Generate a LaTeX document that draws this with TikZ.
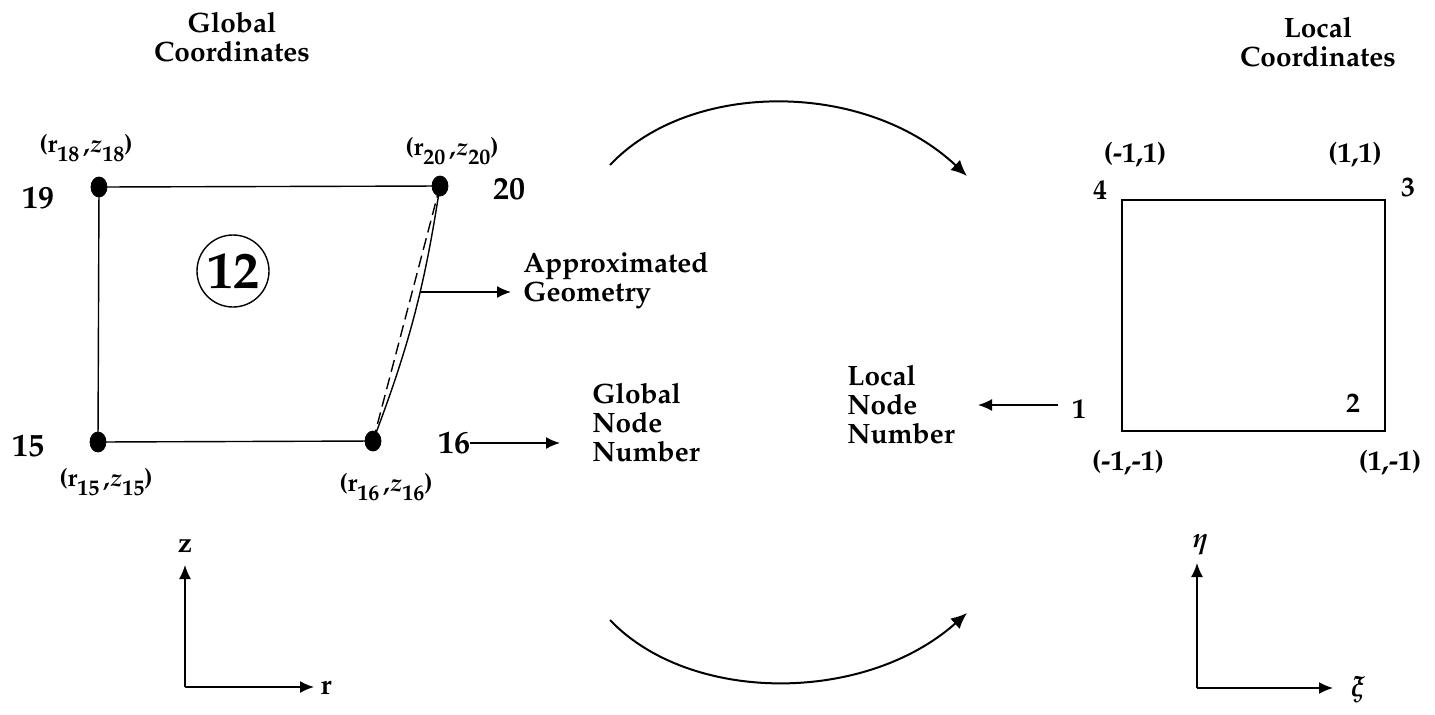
\documentclass[tikz,border=0pt]{standalone}
\usepackage[T1]{fontenc}
\usepackage{mathpazo}
\usetikzlibrary{arrows.meta,shapes.geometric}
\newcommand{\lsb}[1]{\raisebox{-4.5pt}{\fontsize{11}{11}\selectfont #1}}
\begin{document}
\begin{tikzpicture}[x=0.5pt,y=-0.5pt,
  txt/.style={font=\fontsize{14}{14.5}\selectfont\bfseries\boldmath, inner sep=0pt},
  blk/.style={txt, align=left},
  ttl/.style={txt, align=center},
  num/.style={font=\fontsize{16}{16}\selectfont\bfseries, inner sep=0pt},
  lnum/.style={font=\fontsize{14}{14}\selectfont\bfseries, inner sep=0pt},
  crd/.style={font=\fontsize{12.5}{12.5}\selectfont\bfseries, inner sep=0pt},
  gdot/.style={ellipse, fill=black, draw=black, inner sep=0pt, minimum width=8pt, minimum height=10pt},
  eln/.style={line width=0.7pt},
  arr/.style={line width=0.8pt, -{Latex[length=7pt,width=6pt]}},
  bigarr/.style={line width=1pt, -{Latex[length=8pt,width=7pt]}},
  ]
\useasboundingbox (0,0) rectangle (1435,714);

% headings
\node[ttl] (gtitle) at (232,37) {Global\\Coordinates};
\node[ttl] (ltitle) at (1318,42) {Local\\Coordinates};

% global element
\node[gdot] (n19) at (99,187) {};
\node[gdot] (n20) at (440,186) {};
\node[gdot] (n15) at (98,442) {};
\node[gdot] (n16) at (373,441) {};
\draw[eln] (n19.center) -- (n20.center);
\draw[eln] (n19.center) -- (n15.center);
\draw[eln] (n15.center) -- (n16.center);
\draw[eln, dash pattern=on 6pt off 3pt] (n20.center) -- (n16.center);
\draw[eln] (n20.center) to[bend left=6] coordinate[pos=0.4] (geo) (n16.center);

\node[num] (g19) at (38,198) {19};
\node[num] (g20) at (509,189) {20};
\node[num] (g15) at (28,446) {15};
\node[num] (g16) at (454,443) {16};

\node[crd] (c18) at (86,148) {(r\lsb{18}\,,\textit{z}\lsb{18})};
\node[crd] (c20) at (452,151) {(r\lsb{20}\,,\textit{z}\lsb{20})};
\node[crd] (c15) at (106,482) {(r\lsb{15}\,,\textit{z}\lsb{15})};
\node[crd] (c16) at (386,487) {(r\lsb{16}\,,\textit{z}\lsb{16})};

\node[circle, draw, line width=0.7pt, minimum size=36pt, inner sep=0pt,
      font=\fontsize{26}{26}\selectfont\bfseries] (elem) at (233,271) {12};

% approximated geometry
\node[blk, anchor=west] (appr) at (523,280) {Approximated\\Geometry};
\draw[arr, shorten >=6pt] (geo) -- (geo -| appr.west);

% global node number
\node[blk, anchor=west] (gnn) at (592,423) {Global\\Node\\Number};
\coordinate (gtip) at (560,443);
\draw[arr] (g16.east) -- (gtip);

% transformation arcs
\coordinate (ta) at (610,165);
\coordinate (tb) at (967,176);
\draw[bigarr] (ta) .. controls (690,80) and (865,80) .. (tb);
\coordinate (ba) at (610,620);
\coordinate (bb) at (967,613);
\draw[bigarr] (ba) .. controls (690,704) and (865,704) .. (bb);

% local element
\coordinate (l1) at (1122,431);
\coordinate (l2) at (1385,431);
\coordinate (l3) at (1385,200);
\coordinate (l4) at (1122,200);
\draw[eln] (l1) -- (l2) -- (l3) -- (l4) -- cycle;

\node[lnum] (k1) at (1079,409) {1};
\node[lnum] (k2) at (1353,403) {2};
\node[lnum] (k3) at (1408,187) {3};
\node[lnum] (k4) at (1100,190) {4};
\node[txt] (p4) at (1135,155) {(-1,1)};
\node[txt] (p3) at (1355,155) {(1,1)};
\node[txt] (p1) at (1128,463) {(-1,-1)};
\node[txt] (p2) at (1390,463) {(1,-1)};

% local node number
\node[blk, anchor=west] (lnn) at (847,405) {Local\\Node\\Number};
\coordinate (ltail) at (1058,405);
\coordinate (ltip) at (978,405);
\draw[arr] (ltail) -- (ltip);

% global axes
\coordinate (go) at (185,687);
\coordinate (gz) at (185,565);
\coordinate (gr) at (314,687);
\draw[arr] (go) -- (gz);
\draw[arr] (go) -- (gr);
\node[txt] (zlab) at (185,546) {z};
\node[txt] (rlab) at (326,688) {r};

% local axes
\coordinate (lo) at (1197,688);
\coordinate (le) at (1197,563);
\coordinate (lx) at (1333,688);
\draw[arr] (lo) -- (le);
\draw[arr] (lo) -- (lx);
\node[txt] (etalab) at (1200,545) {$\eta$};
\node[txt] (xilab) at (1358,690) {$\xi$};
\end{tikzpicture}
\end{document}
